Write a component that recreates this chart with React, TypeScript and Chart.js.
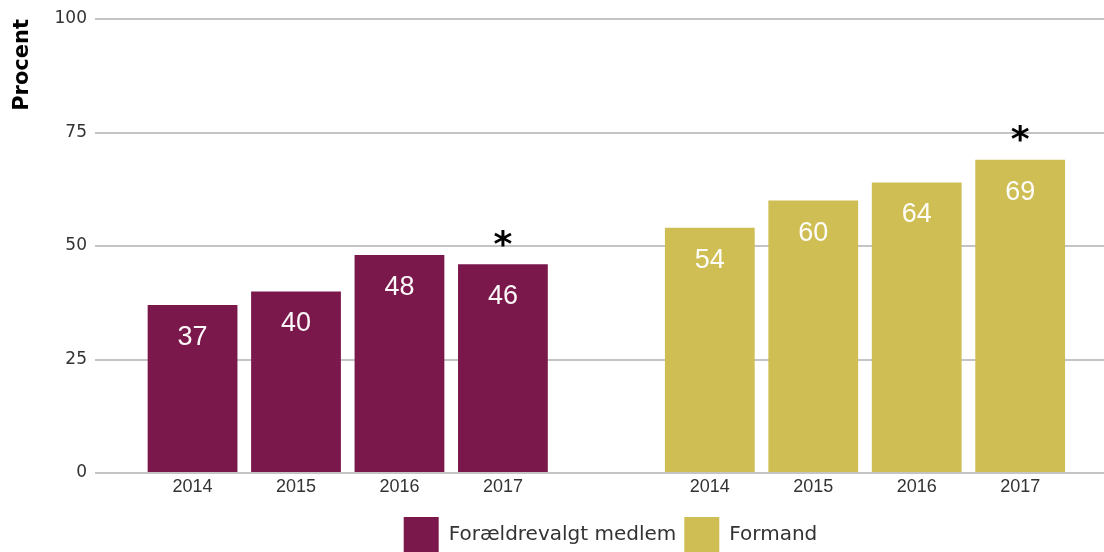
import React, { useEffect, useRef } from "react";
import { Chart, registerables } from "chart.js";

Chart.register(...registerables);

// ---- Data ----
const years: string[] = ["2014", "2015", "2016", "2017"];
const seriesNames: string[] = ["Forældrevalgt medlem", "Formand"];
const foraeldrevalgtValues: number[] = [37, 40, 48, 46];
const formandValues: number[] = [54, 60, 64, 69];
const foraeldrevalgtSignificant: boolean[] = [false, false, false, true];
const formandSignificant: boolean[] = [false, false, false, true];
const yTicks: number[] = [0, 25, 50, 75, 100];
const yTitle = "Procent";

// ---- Styles ----
const COLORS = ["#7A184C", "#CFBE53"];
const GROUP_SLOT_OFFSET = years.length + 1; // one empty slot between the groups

const CANVAS_W = 1126;
const CANVAS_H = 562;

const slotsA = years.map((_, i) => i);
const slotsB = years.map((_, i) => i + GROUP_SLOT_OFFSET);
const tickSlots = [...slotsA, ...slotsB];
const tickLabels = [...years, ...years];

const significance = [foraeldrevalgtSignificant, formandSignificant];

const labelPlugin = {
  id: "barLabels",
  afterDatasetsDraw(chart: any) {
    const ctx = chart.ctx as CanvasRenderingContext2D;
    ctx.save();
    chart.data.datasets.forEach((ds: any, di: number) => {
      const meta = chart.getDatasetMeta(di);
      meta.data.forEach((bar: any, i: number) => {
        const v = ds.data[i].y;
        ctx.fillStyle = "rgba(255,255,255,0.97)";
        ctx.font = "27px 'Liberation Sans', Arial, sans-serif";
        ctx.textAlign = "center";
        ctx.textBaseline = "alphabetic";
        ctx.fillText(String(v), bar.x, bar.y + 40);
        if (significance[di][i]) {
          ctx.fillStyle = "#000";
          ctx.font = "bold 36px 'DejaVu Sans', sans-serif";
          ctx.textBaseline = "alphabetic";
          const m = ctx.measureText("*");
          const asc = m.actualBoundingBoxAscent;
          const desc = m.actualBoundingBoxDescent;
          const centerY = bar.y - 26;
          const baseY = centerY + (asc - desc) / 2;
          ctx.fillText("*", bar.x, baseY);
        }
      });
    });
    ctx.restore();
  },
};

export default function App() {
  const ref = useRef<HTMLCanvasElement | null>(null);

  useEffect(() => {
    document.body.style.overflow = "hidden";
    document.documentElement.style.overflow = "hidden";
    const canvas = ref.current;
    if (!canvas) return;
    const chart = new Chart(canvas, {
      type: "bar",
      data: {
        datasets: [
          {
            label: seriesNames[0],
            data: foraeldrevalgtValues.map((v, i) => ({ x: slotsA[i], y: v })),
            backgroundColor: COLORS[0],
            borderColor: COLORS[0],
            borderWidth: 0,
            grouped: false,
            categoryPercentage: 1,
            barPercentage: 0.868,
          },
          {
            label: seriesNames[1],
            data: formandValues.map((v, i) => ({ x: slotsB[i], y: v })),
            backgroundColor: COLORS[1],
            borderColor: COLORS[1],
            borderWidth: 0,
            grouped: false,
            categoryPercentage: 1,
            barPercentage: 0.868,
          },
        ] as any,
      },
      options: {
        animation: false,
        responsive: false,
        devicePixelRatio: 1,
        layout: { padding: { top: 19, left: 0, right: 0, bottom: 0 } },
        plugins: {
          tooltip: { enabled: false },
          legend: {
            position: "bottom",
            fullSize: false,
            labels: {
              boxWidth: 35,
              boxHeight: 35,
              padding: 8,
              color: "#333",
              font: { family: "'DejaVu Sans', sans-serif", size: 20 },
            },
          },
        },
        scales: {
          x: {
            type: "linear",
            offset: false,
            min: -0.943,
            max: 9.023,
            grid: { display: false, drawTicks: false, offset: false },
            border: { display: false },
            afterBuildTicks: (scale: any) => {
              scale.ticks = tickSlots.map((v) => ({ value: v }));
            },
            afterFit: (scale: any) => {
              scale.height = 36;
            },
            ticks: {
              padding: 3,
              color: "#333",
              font: { family: "'Liberation Sans', Arial, sans-serif", size: 18 },
              callback: (_v: any, i: number) => tickLabels[i],
              maxRotation: 0,
              autoSkip: false,
            },
          },
          y: {
            min: 0,
            max: 100,
            afterBuildTicks: (scale: any) => {
              scale.ticks = yTicks.map((v) => ({ value: v }));
            },
            afterFit: (scale: any) => {
              scale.width = 95;
            },
            grid: { color: "#c4c4c4", lineWidth: 2, drawTicks: false },
            border: { display: false },
            ticks: {
              padding: 8,
              color: "#333",
              font: { family: "'DejaVu Sans', sans-serif", size: 17 },
            },
            title: {
              display: true,
              text: yTitle,
              align: "end",
              color: "#000",
              padding: { top: 10, bottom: 0 },
              font: { family: "'DejaVu Sans', sans-serif", size: 21, weight: "bold" },
            },
          },
        },
      } as any,
      plugins: [labelPlugin],
    });
    return () => chart.destroy();
  }, []);

  return (
    <div
      style={{
        position: "fixed",
        left: 0,
        top: 0,
        width: 1104,
        height: 552,
        overflow: "hidden",
        background: "#fff",
      }}
    >
      <canvas ref={ref} width={CANVAS_W} height={CANVAS_H} style={{ display: "block" }} />
    </div>
  );
}
